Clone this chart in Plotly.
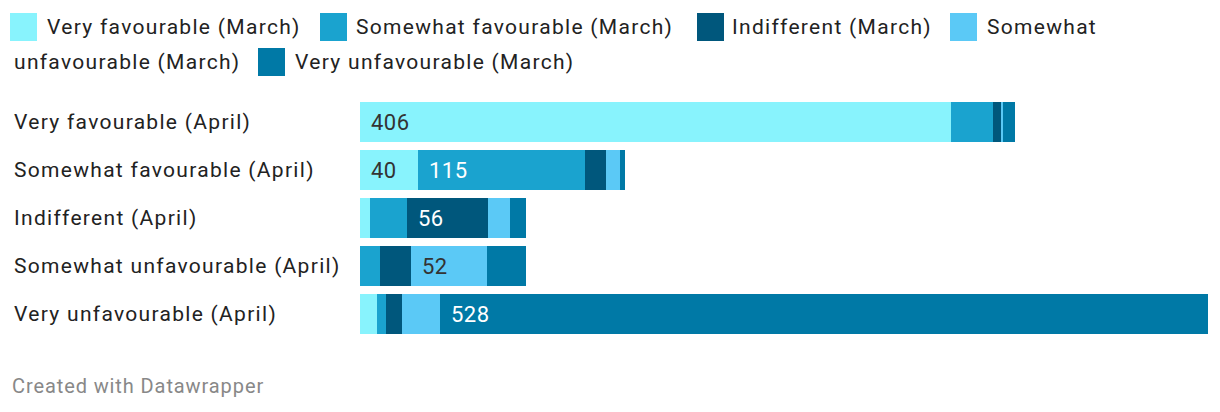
import plotly.graph_objects as go

# ---- data ----
categories = ["Very favourable (April)", "Somewhat favourable (April)", "Indifferent (April)",
              "Somewhat unfavourable (April)", "Very unfavourable (April)"]
series_names = ["Very favourable (March)", "Somewhat favourable (March)", "Indifferent (March)",
                "Somewhat unfavourable (March)", "Very unfavourable (March)"]
very_fav_march = [406, 40, 7, 0, 12]
somewhat_fav_march = [29, 115, 25, 14, 6]
indifferent_march = [6, 14, 56, 21, 11]
somewhat_unfav_march = [1, 10, 15, 52, 26]
very_unfav_march = [8, 3, 11, 27, 528]

series_values = [very_fav_march, somewhat_fav_march, indifferent_march,
                 somewhat_unfav_march, very_unfav_march]
colors = ["#88f3fd", "#1aa3cf", "#00577c", "#5bc9f6", "#0079a6"]
label_colors = ["#333333", "#ffffff", "#ffffff", "#333333", "#ffffff"]
LABEL_MIN = 40   # segments smaller than this carry no value label

# page has an 8px body margin; screen coords below refer to the final screenshot
W, H = 1204, 396
L, R, T, B = 352, 4, 90, 66
PW, PH = W - L - R, H - T - B
SX0, SY0 = 360, 338   # screen position of plot-area left / bottom

def xp(px):
    return (px - SX0) / PW

def yp(py):
    return (SY0 - py) / PH

def spaced(txt, ls):
    return '<span style="letter-spacing:%spx">%s</span>' % (ls, txt)

FONT = "Roboto"
TXT = "#222222"
fig = go.Figure()
for name, vals, col in zip(series_names, series_values, colors):
    fig.add_trace(go.Bar(
        y=categories, x=vals, name=name, orientation="h",
        marker=dict(color=col, line=dict(width=0)),
        showlegend=False, hoverinfo="x+name",
    ))

totals = [sum(s[i] for s in series_values) for i in range(len(categories))]
xmax = max(totals)

annotations = []
shapes = []
# category labels (left aligned)
for cat in categories:
    annotations.append(dict(x=xp(12), xref="paper", y=cat, yref="y", text=spaced(cat, 1.3),
                            showarrow=False, xanchor="left", yanchor="middle",
                            font=dict(family=FONT, size=21, color=TXT)))
# value labels on segments wide enough
for i, cat in enumerate(categories):
    base = 0
    for j, vals in enumerate(series_values):
        v = vals[i]
        if v >= LABEL_MIN:
            annotations.append(dict(x=base, xref="x", y=cat, yref="y",
                                    text=spaced(str(v), 0.5),
                                    showarrow=False, xanchor="left", yanchor="middle", xshift=9,
                                    font=dict(family=FONT, size=22, color=label_colors[j])))
        base += v

# manual legend (wrapping like the original)
legend_items = [
    (10, 27, series_names[0], 45, 27),
    (320, 27, series_names[1], 354, 27),
    (697, 27, series_names[2], 730, 27),
    (950, 27, "Somewhat", 985, 27),
    (258, 62, series_names[4], 293, 62),
]
for i, (sx, sy, txt, tx, ty) in enumerate(legend_items):
    shapes.append(dict(type="rect", xref="paper", yref="paper",
                       x0=xp(sx), x1=xp(sx + 27), y0=yp(sy - 14), y1=yp(sy + 14),
                       fillcolor=colors[i], line=dict(width=0), layer="above"))
    annotations.append(dict(x=xp(tx), xref="paper", y=yp(ty), yref="paper", text=spaced(txt, 1.3),
                            showarrow=False, xanchor="left", yanchor="middle",
                            font=dict(family=FONT, size=21, color=TXT)))
annotations.append(dict(x=xp(12), xref="paper", y=yp(62), yref="paper",
                        text=spaced("unfavourable (March)", 1.3),
                        showarrow=False, xanchor="left", yanchor="middle",
                        font=dict(family=FONT, size=21, color=TXT)))
# footer
annotations.append(dict(x=xp(10), xref="paper", y=yp(386), yref="paper",
                        text=spaced("Created with Datawrapper", 0.9),
                        showarrow=False, xanchor="left", yanchor="middle",
                        font=dict(family=FONT, size=20, color="#888888")))

fig.update_layout(
    width=W, height=H, barmode="stack", bargap=0.15,
    margin=dict(l=L, r=R, t=T, b=B),
    paper_bgcolor="white", plot_bgcolor="white",
    xaxis=dict(range=[0, xmax], visible=False, fixedrange=True),
    yaxis=dict(autorange="reversed", showticklabels=False, showgrid=False,
               zeroline=False, showline=False, ticks="", fixedrange=True),
    annotations=annotations, shapes=shapes,
    font=dict(family=FONT),
)
fig.write_html("out.html")
